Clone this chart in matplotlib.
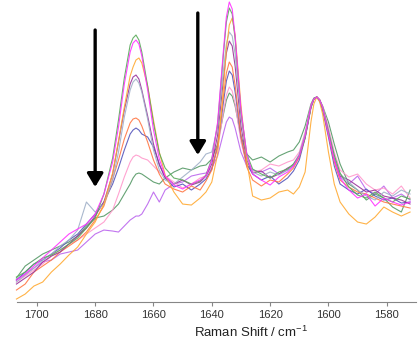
"""Raman spectra overlay (normalised at 1605 cm-1)."""

import matplotlib

matplotlib.use("Agg")
import matplotlib.pyplot as plt

plt.rcParams["font.family"] = ["Liberation Sans", "DejaVu Sans"]
plt.rcParams["mathtext.default"] = "regular"

# Raman shift / cm-1 (descending)
shift = [1707, 1704, 1701, 1698, 1695, 1692, 1689, 1686, 1683, 1680,
         1677, 1674, 1672, 1670, 1668, 1667, 1666, 1665, 1664, 1662,
         1660, 1658, 1656, 1653, 1650, 1647, 1644, 1642, 1640, 1638,
         1636, 1635, 1634, 1633, 1632, 1630, 1628, 1626, 1623, 1620,
         1617, 1614, 1612, 1610, 1608, 1606, 1605, 1604, 1603, 1602,
         1600, 1598, 1596, 1593, 1590, 1587, 1584, 1581, 1578, 1575, 1572]

# intensities (a.u.), one list per spectrum
green = [25, 30, 38, 44, 47, 52, 58, 64, 74, 84,
         108, 144, 182, 224, 257, 264, 267, 262, 250, 216,
         179, 149, 134, 124, 122, 118, 121, 127, 143, 178,
         248, 280, 294, 288, 263, 190, 148, 133, 128, 124,
         130, 133, 138, 146, 164, 195, 203, 205, 202, 195,
         170, 147, 129, 115, 107, 104, 110, 104, 100, 106, 103]
magenta = [22, 28, 36, 44, 52, 60, 68, 73, 78, 88,
           108, 140, 175, 218, 250, 259, 262, 258, 246, 212,
           172, 143, 126, 117, 113, 118, 122, 126, 142, 180,
           252, 285, 300, 293, 266, 192, 148, 128, 122, 117,
           125, 130, 136, 146, 166, 196, 203, 205, 202, 195,
           168, 142, 124, 112, 104, 108, 96, 104, 100, 97, 100]
orange = [3, 8, 16, 20, 30, 38, 47, 55, 68, 80,
          98, 129, 161, 195, 226, 235, 242, 244, 239, 216,
          182, 150, 127, 110, 98, 97, 104, 110, 120, 148,
          214, 253, 277, 284, 267, 197, 141, 106, 102, 104,
          110, 112, 108, 115, 130, 180, 198, 205, 200, 188,
          150, 118, 100, 88, 80, 78, 85, 95, 90, 86, 90]
grey = [20, 27, 34, 42, 48, 56, 62, 72, 100, 90,
        98, 122, 150, 185, 212, 220, 223, 219, 210, 183,
        152, 132, 122, 118, 125, 132, 140, 148, 150, 175,
        232, 258, 270, 266, 248, 185, 145, 130, 126, 130,
        127, 132, 138, 148, 168, 196, 203, 205, 202, 195,
        172, 146, 128, 120, 112, 106, 102, 110, 106, 112, 108]
purple = [18, 24, 30, 40, 46, 50, 58, 66, 74, 86,
          100, 128, 160, 192, 218, 225, 227, 223, 212, 186,
          158, 137, 125, 118, 122, 117, 120, 126, 138, 167,
          223, 249, 261, 256, 236, 176, 142, 129, 131, 124,
          128, 134, 137, 147, 166, 196, 203, 205, 202, 194,
          170, 144, 126, 122, 116, 110, 112, 106, 104, 102, 98]
tomato = [12, 18, 30, 36, 42, 50, 56, 62, 70, 82,
          96, 123, 142, 163, 179, 183, 184, 182, 176, 160,
          142, 128, 118, 113, 110, 116, 112, 121, 132, 157,
          206, 229, 240, 235, 217, 166, 135, 122, 116, 122,
          120, 128, 134, 145, 165, 195, 203, 205, 202, 194,
          168, 140, 122, 115, 110, 108, 104, 100, 98, 96, 94]
navy = [22, 30, 38, 42, 48, 54, 62, 68, 78, 88,
        100, 118, 134, 152, 168, 172, 174, 172, 168, 165,
        155, 138, 124, 115, 118, 112, 118, 123, 133, 156,
        200, 221, 231, 227, 210, 165, 138, 128, 122, 126,
        118, 124, 131, 142, 164, 194, 203, 205, 201, 192,
        165, 136, 118, 112, 108, 113, 106, 102, 104, 99, 100]
pink = [20, 26, 32, 38, 46, 52, 58, 62, 68, 74,
        80, 92, 108, 125, 140, 145, 147, 146, 144, 142,
        136, 130, 126, 120, 114, 118, 124, 126, 134, 153,
        190, 207, 215, 211, 198, 160, 137, 130, 132, 138,
        136, 140, 142, 150, 170, 197, 203, 205, 202, 196,
        175, 150, 132, 125, 128, 118, 112, 114, 108, 116, 104]
seagreen = [24, 36, 42, 48, 52, 56, 60, 66, 76, 84,
            86, 92, 98, 108, 118, 124, 128, 129, 128, 124,
            120, 118, 124, 130, 134, 132, 136, 137, 143, 158,
            188, 202, 209, 206, 196, 166, 148, 142, 145, 140,
            146, 150, 152, 160, 176, 198, 204, 205, 202, 196,
            180, 158, 138, 118, 112, 102, 108, 104, 95, 90, 112]
orchid = [22, 28, 34, 40, 42, 48, 50, 52, 60, 68,
          72, 71, 70, 76, 82, 84, 86, 86, 88, 98,
          110, 100, 112, 118, 120, 126, 128, 129, 134, 146,
          169, 180, 185, 183, 174, 150, 136, 132, 130, 134,
          128, 132, 136, 145, 166, 195, 203, 205, 202, 194,
          170, 142, 125, 118, 126, 112, 108, 116, 104, 108, 102]

spectra = [
    (orchid, "#bb66ee"),
    (seagreen, "#559966"),
    (pink, "#ff99cc"),
    (navy, "#5555bb"),
    (tomato, "#ff7744"),
    (purple, "#993399"),
    (grey, "#a0b0c8"),
    (orange, "#ffaa33"),
    (green, "#5aaa5a"),
    (magenta, "#ff33ff"),
]

# arrows marking the 1680 and 1645 cm-1 bands
arrow_x = [1680, 1644.8]
arrow_top = [272, 289]
arrow_tip = [115, 147]

fig = plt.figure(figsize=(4.18, 3.5), dpi=100)
ax = fig.add_axes([0.04, 0.137, 0.955, 0.863])

for values, colour in spectra:
    ax.plot(shift, values, color=colour, lw=0.8, alpha=0.9, clip_on=False)

for x, top, tip in zip(arrow_x, arrow_top, arrow_tip):
    ax.annotate("", xy=(x, tip), xytext=(x, top),
                arrowprops=dict(arrowstyle="-|>,head_length=0.5,head_width=0.3",
                                color="black", lw=2.4, mutation_scale=16,
                                shrinkA=0, shrinkB=0))

ax.set_xlim(1706.9, 1570)
ax.set_ylim(0, 302)
ax.set_xticks([1700, 1680, 1660, 1640, 1620, 1600, 1580])
ax.set_yticks([])
for side in ("top", "right", "left"):
    ax.spines[side].set_visible(False)
ax.spines["bottom"].set_color("#868686")
ax.spines["bottom"].set_linewidth(0.8)
ax.tick_params(axis="x", colors="#868686", length=3, width=0.8,
               labelcolor="#333333", labelsize=8, pad=3)
ax.set_xlabel("Raman Shift / cm$^{-1}$", fontsize=9.5, color="#222222")
ax.xaxis.set_label_coords(0.587, -0.075)

fig.savefig("out.png", dpi=100)
